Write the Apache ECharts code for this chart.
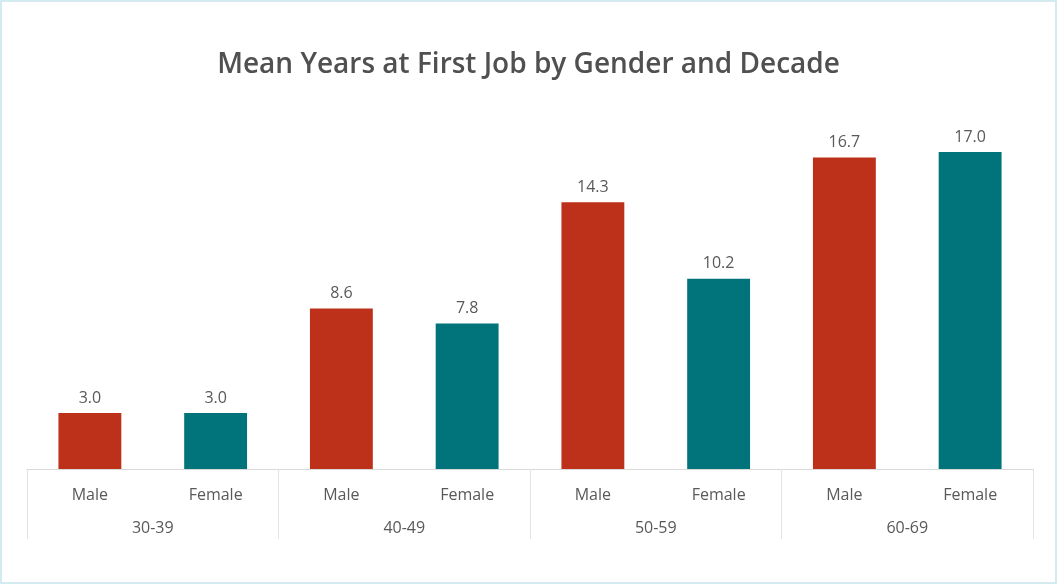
<!DOCTYPE html>
<html>
<head>
<meta charset="utf-8">
<script src="https://cdn.jsdelivr.net/npm/echarts@6/dist/echarts.min.js"></script>
<style>
    html, body { margin: 0; padding: 0; background: #fff; }
    #chart { width: 1057px; height: 584px; box-sizing: border-box; border: 2px solid #d3eaf0; }
</style>
</head>
<body>
<div id="chart"></div>
<script>
    const genders = ["Male", "Female", "Male", "Female", "Male", "Female", "Male", "Female"];
    const decades = ["30-39", "40-49", "50-59", "60-69"];
    const values = [3.0, 3.0, 8.6, 7.8, 14.3, 10.2, 16.7, 17.0];
    const colors = ["#bd3019", "#00737b"];

    // Chart
    const chart = echarts.init(document.getElementById("chart"));
    const option = {
        animation: false,
        title: {
            text: "Mean Years at First Job by Gender and Decade",
            left: "center",
            top: 44,
            textStyle: {
                fontFamily: "Open Sans",
                fontSize: 28,
                fontWeight: 600,
                color: "#505050"
            }
        },
        grid: {
            left: 25,
            right: 22,
            top: 94,
            bottom: 113
        },
        xAxis: [{
            type: "category",
            data: genders,
            axisLine: { lineStyle: { color: "#d9d9d9", width: 1 } },
            axisTick: { show: false },
            axisLabel: {
                margin: 18,
                fontFamily: "Open Sans",
                fontSize: 16,
                color: "#595959"
            }
        }, {
            type: "category",
            data: decades,
            position: "bottom",
            axisLine: { lineStyle: { color: "#d9d9d9", width: 1 } },
            axisTick: {
                show: true,
                length: 70,
                lineStyle: { color: "#e3e3e3", width: 1 }
            },
            axisLabel: {
                margin: 51,
                fontFamily: "Open Sans",
                fontSize: 16,
                color: "#595959"
            }
        }],
        yAxis: {
            type: "value",
            min: 0,
            max: 20,
            show: false,
            splitLine: { show: false }
        },
        series: [{
            type: "bar",
            xAxisIndex: 0,
            barWidth: "50%",
            data: values.map((v, i) => ({
                value: v,
                itemStyle: { color: colors[i % 2] }
            })),
            label: {
                show: true,
                position: "top",
                distance: 7,
                formatter: p => p.value.toFixed(1),
                fontFamily: "Open Sans",
                fontSize: 16,
                color: "#595959"
            }
        }]
    };
    chart.setOption(option);
</script>
</body>
</html>
